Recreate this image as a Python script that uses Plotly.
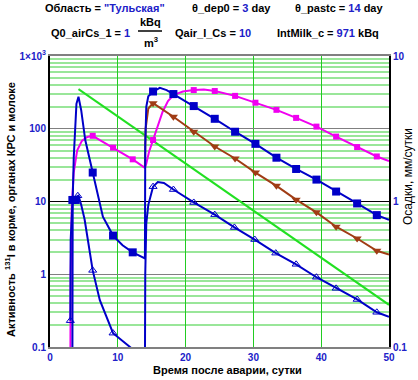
import plotly.graph_objects as go

# ---------------- data ----------------
# blue line with filled squares
sq_blue_x = [3.3, 3.35, 3.5, 3.7, 3.9, 4.2, 4.6, 5.2, 6.3, 7.8, 9.3, 10.7, 12.2, 14.0,
             14.05, 14.2, 14.5, 15.2, 16.2, 17.2, 18.2, 21.2, 24.3, 27.3, 30.3, 33.4,
             36.3, 39.3, 42.2, 45.3, 48.2, 50.0]
sq_blue_y = [0.05, 10.5, 40, 120, 220, 275, 180, 70, 25, 6.2, 3.4, 2.5, 2.0, 1.65,
             60, 200, 280, 325, 365, 340, 300, 205, 137, 91, 62, 40,
             28, 20, 13.7, 9.4, 6.5, 5.6]
sq_blue_mx = [3.3, 3.8, 6.3, 9.3, 12.2, 15.2, 18.2, 21.2, 24.3, 27.3, 30.3, 33.4, 36.3,
              39.3, 42.2, 45.3, 48.2]
sq_blue_my = [10.5, 10.5, 25, 3.4, 2.0, 325, 300, 205, 137, 91, 62, 40, 28,
              20, 13.7, 9.4, 6.5]

# magenta line with small squares
sq_mag_x = [3.0, 3.05, 3.2, 3.5, 4.0, 4.7, 5.5, 6.3, 7.8, 9.3, 10.8, 12.2, 14.0,
            14.2, 14.6, 15.2, 15.8, 16.6, 17.4, 18.2, 19.6, 21.2, 22.7, 24.3, 27.3,
            30.3, 33.4, 36.3, 39.3, 42.2, 45.3, 48.2, 50.0]
sq_mag_y = [0.05, 1.0, 8, 25, 50, 68, 77, 80, 66, 55, 45, 38, 29,
            33, 48, 70, 105, 170, 240, 290, 325, 340, 345, 330, 283,
            228, 182, 141, 107, 78, 56, 41.6, 36]
sq_mag_mx = [6.3, 9.3, 12.2, 15.2, 18.2, 21.2, 24.3, 27.3, 30.3, 33.4, 36.3, 39.3,
             42.2, 45.3, 48.2]
sq_mag_my = [80, 55, 38, 70, 290, 340, 330, 283, 228, 182, 141, 107, 78, 56, 41.6]

# green straight line
green_x = [4.2, 50.0]
green_y = [350, 0.38]

# brown line with filled down-triangles
brown_x = [14.0, 14.1, 14.5, 15.2, 18.2, 21.2, 24.3, 27.3, 30.3, 33.4, 36.3, 39.3,
           42.2, 45.3, 48.2, 50.0]
brown_y = [30, 100, 190, 225, 146, 91, 57, 39, 25, 16.4, 10.6, 7.1,
           4.5, 3.1, 2.1, 1.87]
brown_mx = [15.2, 18.2, 21.2, 24.3, 27.3, 30.3, 33.4, 36.3, 39.3, 42.2, 45.3, 48.2]
brown_my = [225, 146, 91, 57, 39, 25, 16.4, 10.6, 7.1, 4.5, 3.1, 2.1]

# blue line with open up-triangles
tri_x = [3.0, 3.05, 3.3, 3.8, 4.2, 4.6, 5.1, 6.3, 7.35, 9.3, 11.8, 13.0,
         14.0, 14.05, 14.2, 14.5, 15.2, 15.9, 16.8, 18.2, 21.2, 24.3, 27.2, 30.2,
         33.3, 36.3, 39.3, 42.2, 45.3, 48.2, 50.0]
tri_y = [0.23, 3, 9, 11.5, 12, 9, 5.7, 1.13, 0.44, 0.155, 0.1, 0.08,
         0.05, 1, 5, 9, 16, 18.5, 18, 14.6, 9.7, 6.6, 4.4, 3.0,
         1.95, 1.37, 0.91, 0.64, 0.45, 0.30, 0.26]
tri_mx = [3.0, 4.1, 6.3, 9.3, 15.2, 18.2, 21.2, 24.3, 27.2, 30.2, 33.3, 36.3, 39.3,
          42.2, 45.3, 48.2]
tri_my = [0.23, 12, 1.13, 0.155, 16, 14.6, 9.7, 6.6, 4.4, 3.0, 1.95, 1.37, 0.91,
          0.64, 0.45, 0.30]

# precipitation (right axis) - nothing visible in the reference
precip_x = [None]
precip_y = [None]

x_ticks = [0, 10, 20, 30, 40, 50]
y_tickvals = [0.1, 1, 10, 100, 1000]
y_ticktext = ["0.1", "1", "10", "100", "1×10<sup>3</sup>"]
y2_tickvals = [0.1, 1, 10]
y2_ticktext = ["0.1", "1", "10"]
y_minor_vals = [m * 10.0 ** d for d in (-1, 0, 1, 2) for m in range(2, 10)]

# ---------------- styling ----------------
BLUE_TXT = "#2020C8"
BLUE = "#0000C8"
MAG = "#F000F0"
GREEN = "#22E022"
BROWN = "#A03C14"
FONT = "Arial, Liberation Sans, sans-serif"

W, H = 418, 380
L, R, T, B = 50, 389, 56, 347  # plot area in pixels


def fx(p):
    return (p - L) / (R - L)


def fy(p):
    return (B - p) / (B - T)


fig = go.Figure()


def add_series(x, y, mx, my, color, symbol, msize, mline=None):
    fig.add_trace(go.Scatter(x=x, y=y, mode="lines",
                             line=dict(color=color, width=2), hoverinfo="skip"))
    if mx:
        fig.add_trace(go.Scatter(x=mx, y=my, mode="markers",
                                 marker=dict(color=color, symbol=symbol, size=msize,
                                             line=mline or dict(width=0)),
                                 hoverinfo="skip"))


fig.add_trace(go.Scatter(x=green_x, y=green_y, mode="lines",
                         line=dict(color=GREEN, width=2), hoverinfo="skip"))
add_series(sq_mag_x, sq_mag_y, sq_mag_mx, sq_mag_my, MAG, "square", 6)
add_series(brown_x, brown_y, brown_mx, brown_my, BROWN, "triangle-down", 8)
add_series(tri_x, tri_y, tri_mx, tri_my, BLUE, "triangle-up-open", 7,
           dict(color=BLUE, width=1))
add_series(sq_blue_x, sq_blue_y, sq_blue_mx, sq_blue_my, BLUE, "square", 8)
fig.add_trace(go.Scatter(x=precip_x, y=precip_y, yaxis="y2", mode="lines",
                         line=dict(color="black", width=1), hoverinfo="skip"))

tick_font = dict(family=FONT, size=10, color=BLUE_TXT, weight="bold")

fig.update_layout(
    width=W, height=H,
    margin=dict(l=L, r=W - R, t=T, b=H - B, autoexpand=False),
    paper_bgcolor="white", plot_bgcolor="white",
    showlegend=False,
    hovermode=False,
    xaxis=dict(range=[0, 50], tickvals=x_ticks, ticks="",
               showgrid=True, gridcolor="#22CC22", gridwidth=1,
               showline=True, linecolor="#808080", linewidth=2, mirror=True,
               zeroline=False, tickfont=tick_font),
    yaxis=dict(type="log", range=[-1, 3], tickvals=y_tickvals, ticktext=y_ticktext,
               ticks="", showgrid=True, gridcolor="#808080", gridwidth=1,
               minor=dict(tickmode="array", tickvals=y_minor_vals, showgrid=True,
                          gridcolor="#99E699", gridwidth=2, ticks=""),
               showline=True, linecolor="black", linewidth=2,
               zeroline=False, tickfont=tick_font),
    yaxis2=dict(type="log", range=[-1, 1], overlaying="y", side="right",
                tickvals=y2_tickvals, ticktext=y2_ticktext, ticks="",
                showgrid=True, gridcolor="black", gridwidth=1,
                showline=True, linecolor="black", linewidth=2,
                zeroline=False, tickfont=tick_font),
)

ann = []


def txt(text, x, y, xanchor="left", size=11, bold=True, angle=0, color="black"):
    ann.append(dict(text=text, x=fx(x), y=fy(y), xref="paper", yref="paper",
                    xanchor=xanchor, yanchor="middle", showarrow=False,
                    textangle=angle,
                    font=dict(family=FONT, size=size, color=color,
                              weight="bold" if bold else "normal")))


def blue(s):
    return '<span style="color:%s">%s</span>' % (BLUE_TXT, s)


# header line 1
txt('Область = ' + blue('"Тульская"'), 43, 8)
txt('θ_dep0 = ' + blue('3') + '\u00a0day', 231, 8, xanchor="center")
txt('θ_pastc = ' + blue('14') + '\u00a0day', 385, 8, xanchor="right")
# header line 2
txt('Q0_airCs_1 = ' + blue('1'), 49, 33)
txt('kBq', 150, 22, xanchor="center")
txt('m<sup>3</sup>', 151, 42, xanchor="center")
txt('Qair_I_Cs = ' + blue('10'), 173, 33)
txt('IntMilk_c = ' + blue('971') + '\u00a0kBq', 381, 33, xanchor="right")
# axis titles
txt('Время после аварии, сутки', 227, 370, xanchor="center")
txt('Активность <sup>131</sup>I в корме, органах КРС и молоке', 10, 210,
    xanchor="center", angle=-90)
txt('Осадки, мм/сутки', 408, 177, xanchor="center", angle=-90, size=12, bold=False)

fig.update_layout(annotations=ann)
fig.add_shape(type="line", xref="paper", yref="paper",
              x0=fx(138), x1=fx(162), y0=fy(31), y1=fy(31),
              line=dict(color="black", width=1.5))

fig.write_html(
    "out.html",
    config={"displayModeBar": False, "staticPlot": True},
    post_script="document.body.style.margin='0';document.body.style.overflow='hidden';",
)
